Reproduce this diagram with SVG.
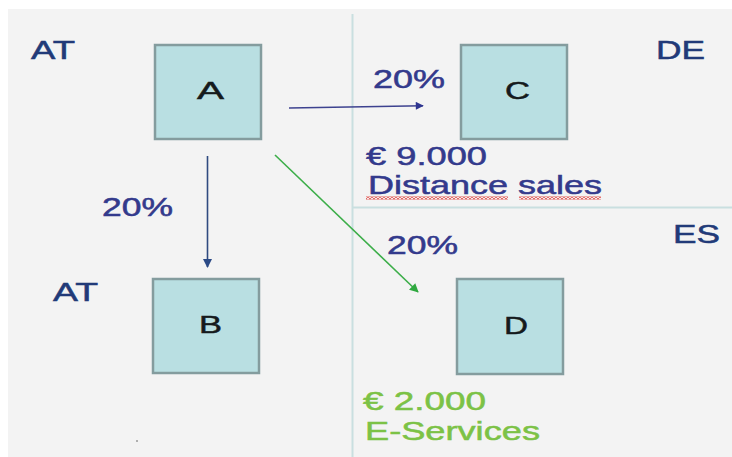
<svg xmlns="http://www.w3.org/2000/svg" width="732" height="457" viewBox="0 0 732 457">
<style>
.box{fill:#b9dfe2;stroke:#849c9e;stroke-width:2.5}
.t{font-family:"Liberation Sans",Arial,sans-serif;font-size:25px;stroke-width:0.5}
.lbl{fill:#151a1c;stroke:#151a1c;font-size:24px}
.nav{fill:#333a8c;stroke:#333a8c}
.reg{fill:#213a78;stroke:#213a78}
.grn{fill:#7cc246;stroke:#7cc246}
.div{stroke:#c9dfe0;stroke-width:2;fill:none}
</style>
<defs>
<marker id="hNavy" viewBox="0 0 10 10" refX="9" refY="5" markerWidth="10" markerHeight="8" markerUnits="userSpaceOnUse" orient="auto"><path d="M0 0L10 5L0 10z" fill="#2e3590"/></marker>
<marker id="hBlue" viewBox="0 0 10 10" refX="9" refY="5" markerWidth="10" markerHeight="9" markerUnits="userSpaceOnUse" orient="auto"><path d="M0 0L10 5L0 10z" fill="#2b4a86"/></marker>
<marker id="hGreen" viewBox="0 0 10 10" refX="9" refY="5" markerWidth="11" markerHeight="9" markerUnits="userSpaceOnUse" orient="auto"><path d="M0 0L10 5L0 10z" fill="#2fa83f"/></marker>
<pattern id="sq" x="0" y="0" width="4" height="3" patternUnits="userSpaceOnUse"><path d="M0 2.5L2 0.5L4 2.5" fill="none" stroke="#e0403a" stroke-width="1.2"/></pattern>
</defs>
<rect width="732" height="457" fill="#ffffff"/>
<rect x="8" y="9" width="724" height="448" fill="#f3f3f3"/>
<g id="dividers">
<line class="div" x1="352.5" y1="14" x2="352.5" y2="457"/>
<line class="div" x1="353" y1="207.5" x2="732" y2="207.5"/>
</g>
<g id="node-A"><rect class="box" x="155" y="45" width="106" height="94"/><text class="t lbl" x="197" y="99" textLength="27" lengthAdjust="spacingAndGlyphs">A</text></g>
<g id="node-B"><rect class="box" x="153" y="279" width="106" height="94"/><text class="t lbl" x="199" y="333" textLength="23" lengthAdjust="spacingAndGlyphs">B</text></g>
<g id="node-C"><rect class="box" x="461" y="45" width="106" height="94"/><text class="t lbl" x="505" y="99" textLength="25" lengthAdjust="spacingAndGlyphs">C</text></g>
<g id="node-D"><rect class="box" x="457" y="279" width="106" height="95"/><text class="t lbl" x="504" y="334" textLength="24" lengthAdjust="spacingAndGlyphs">D</text></g>
<g id="connectors">
<line x1="289" y1="108" x2="423" y2="105.7" stroke="#3d428f" stroke-width="1.6" marker-end="url(#hNavy)"/>
<line x1="207.5" y1="156" x2="207.5" y2="267" stroke="#2f4a80" stroke-width="1.6" marker-end="url(#hBlue)"/>
<line x1="275" y1="155" x2="418" y2="292" stroke="#3cae49" stroke-width="1.6" marker-end="url(#hGreen)"/>
</g>
<g id="labels">
<text class="t reg" x="31" y="59" textLength="44" lengthAdjust="spacingAndGlyphs">AT</text>
<text class="t reg" x="53" y="301" textLength="45" lengthAdjust="spacingAndGlyphs">AT</text>
<text class="t reg" x="656" y="59" textLength="49" lengthAdjust="spacingAndGlyphs">DE</text>
<text class="t reg" x="673" y="243" textLength="47" lengthAdjust="spacingAndGlyphs">ES</text>
<text class="t nav" x="102" y="216" textLength="71" lengthAdjust="spacingAndGlyphs">20%</text>
<text class="t nav" x="373" y="88" textLength="72" lengthAdjust="spacingAndGlyphs">20%</text>
<text class="t nav" x="387" y="254" textLength="71" lengthAdjust="spacingAndGlyphs">20%</text>
<text class="t nav" x="366" y="165" textLength="121" lengthAdjust="spacingAndGlyphs">€ 9.000</text>
<text class="t nav" x="368" y="194" textLength="234" lengthAdjust="spacingAndGlyphs">Distance sales</text>
<text class="t grn" x="363" y="410" textLength="123" lengthAdjust="spacingAndGlyphs">€ 2.000</text>
<text class="t grn" x="365" y="440" textLength="175" lengthAdjust="spacingAndGlyphs">E-Services</text>
</g>
<g id="spellcheck">
<rect x="366" y="196.5" width="142" height="3" fill="url(#sq)"/>
<rect x="519" y="196.5" width="82" height="3" fill="url(#sq)"/>
</g>
<circle cx="137" cy="441" r="1" fill="#999"/>
</svg>
